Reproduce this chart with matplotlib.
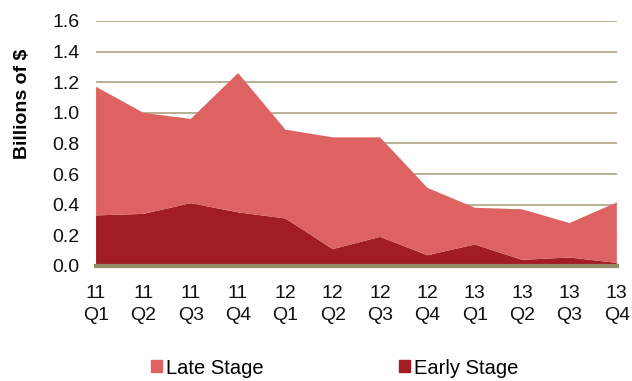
import matplotlib
matplotlib.use("Agg")
from matplotlib import pyplot as plt
from matplotlib.patches import Patch

plt.rcParams["font.family"] = ["Liberation Sans", "DejaVu Sans"]

quarters = ["11\nQ1", "11\nQ2", "11\nQ3", "11\nQ4",
            "12\nQ1", "12\nQ2", "12\nQ3", "12\nQ4",
            "13\nQ1", "13\nQ2", "13\nQ3", "13\nQ4"]
early_stage = [0.33, 0.34, 0.41, 0.35, 0.31, 0.11, 0.19, 0.07, 0.14, 0.04, 0.055, 0.02]
late_stage = [0.84, 0.66, 0.55, 0.91, 0.58, 0.73, 0.65, 0.44, 0.24, 0.33, 0.225, 0.395]
y_ticks = [0.0, 0.2, 0.4, 0.6, 0.8, 1.0, 1.2, 1.4, 1.6]

early_color = "#A21D21"
late_color = "#DE6262"
grid_color = "#ADA283"

fig = plt.figure(figsize=(6.32, 3.81), dpi=100, facecolor="white")
ax = fig.add_axes([0.152, 0.302, 0.824, 0.643])

x = list(range(len(quarters)))
ax.stackplot(x, early_stage, late_stage, colors=[early_color, late_color],
             linewidth=0, zorder=2)

ax.set_xlim(0, len(quarters) - 1)
ax.set_ylim(0, 1.6)
ax.set_yticks(y_ticks)
ax.set_yticklabels([f"{v:.1f}" for v in y_ticks])
ax.set_xticks(x)
ax.set_xticklabels(quarters, linespacing=1.35)

ax.yaxis.grid(True, color=grid_color, linewidth=1.2, zorder=1)
ax.set_axisbelow(True)
for side in ["top", "right", "left"]:
    ax.spines[side].set_visible(False)
ax.spines["bottom"].set_color("#948A68")
ax.spines["bottom"].set_linewidth(3)
ax.spines["bottom"].set_zorder(3)

ax.tick_params(axis="y", length=0, pad=12, labelsize=14, colors="#111111")
ax.tick_params(axis="x", length=0, pad=14, labelsize=14, colors="#111111")

ax.set_ylabel("Billions of $", fontsize=14, fontweight="bold")
ax.yaxis.set_label_coords(-0.124, 0.66)

handles = [Patch(color=late_color, label="Late Stage"),
           Patch(color=early_color, label="Early Stage")]
fig.legend(handles=handles, loc="center", bbox_to_anchor=(0.53, 0.034),
           ncol=2, frameon=False, fontsize=14.5, handlelength=0.55,
           handleheight=0.55, handletextpad=0.2, columnspacing=6.7)

fig.savefig("out.png", dpi=100, facecolor=fig.get_facecolor())
plt.close(fig)
